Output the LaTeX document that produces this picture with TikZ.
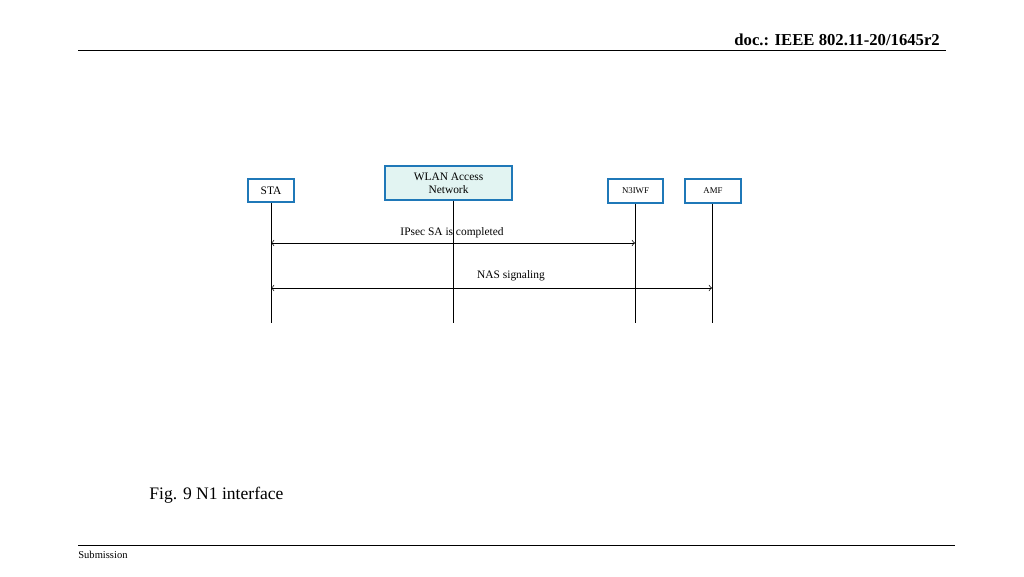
\documentclass[tikz,border=0pt]{standalone}
\usepackage{fontspec}
\setmainfont{Liberation Serif}
\definecolor{boxblue}{HTML}{1F78B8}
\definecolor{boxfill}{HTML}{E2F4F2}
\tikzset{
  entity/.style={draw=boxblue, line width=1.1pt, fill=white, align=center, inner sep=0pt, font=\fontsize{6.5}{7.5}\selectfont},
  lifeline/.style={draw, line width=0.4pt},
  msg/.style={<->, line width=0.4pt},
  msglabel/.style={font=\fontsize{6.5}{7.5}\selectfont}
}
\begin{document}
\begin{tikzpicture}[x=0.02cm,y=-0.02cm]
    \useasboundingbox (0,0) rectangle (1024,576);

    % Header and footer
    \draw[line width=0.5pt] (78,50) -- (946,50);
    \node[anchor=east, font=\bfseries\fontsize{9.5}{11}\selectfont] (doc) at (946,40) {doc.: IEEE 802.11-20/1645r2};
    \draw[line width=0.5pt] (78,545) -- (955,545);
    \node[anchor=west, inner sep=0pt, font=\fontsize{6}{7}\selectfont] (sub) at (78,555) {Submission};
    \node[anchor=west, inner sep=0pt, font=\fontsize{10}{12}\selectfont] (fig) at (149,495) {Fig. 9 N1 interface};

    % Entities
    \node[entity, minimum width=46*0.02cm, minimum height=23*0.02cm] (sta) at (271,190.5) {STA};
    \node[entity, fill=boxfill, minimum width=127*0.02cm, minimum height=34*0.02cm] (wlan) at (448.5,183) {WLAN Access\\Network};
    \node[entity, font=\fontsize{5}{6}\selectfont, minimum width=55*0.02cm, minimum height=24*0.02cm] (n3iwf) at (635.5,191) {N3IWF};
    \node[entity, font=\fontsize{5}{6}\selectfont, minimum width=56*0.02cm, minimum height=24*0.02cm] (amf) at (713,191) {AMF};

    % Lifelines
    \coordinate (staend) at (271,323);
    \coordinate (wlanend) at (453,323);
    \coordinate (n3iwfend) at (635,323);
    \coordinate (amfend) at (712,323);
    \draw[lifeline] (sta.south) -- (staend);
    \draw[lifeline] (wlan.south -| wlanend) -- (wlanend);
    \draw[lifeline] (n3iwf.south -| n3iwfend) -- (n3iwfend);
    \draw[lifeline] (amf.south -| amfend) -- (amfend);

    % Messages
    \coordinate (ipa) at (271,243);
    \coordinate (ipb) at (635,243);
    \draw[msg] (ipa) -- (ipb);
    \node[msglabel] (iplabel) at (452,233) {IPsec SA is completed};
    \coordinate (nasa) at (271,288);
    \coordinate (nasb) at (712,288);
    \draw[msg] (nasa) -- (nasb);
    \node[msglabel] (naslabel) at (511,276) {NAS signaling};
\end{tikzpicture}
\end{document}
